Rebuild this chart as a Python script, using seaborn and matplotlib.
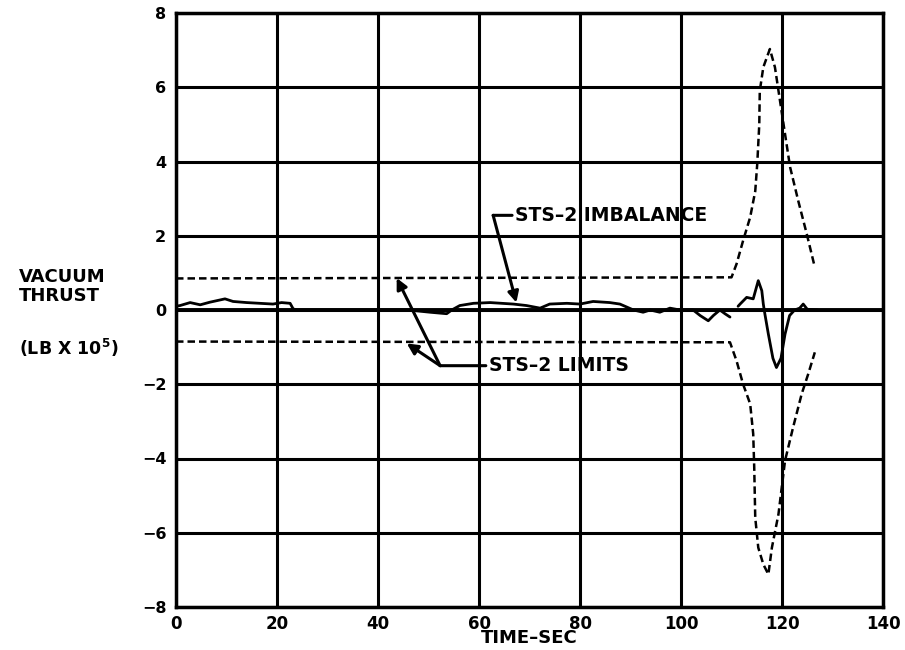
import numpy as np
import pandas as pd
import seaborn as sns
import matplotlib.pyplot as plt

# STS-2 imbalance trace (time sec, thrust 1e5 lb), two segments
imb_t1 = [0, 0.8, 2.8, 4.8, 6.7, 9.7, 11.3, 14, 16.6, 19.2, 20.9, 22.6, 23.2, 24, 30, 40, 46, 50.3,
          53.6, 54.6, 56.2, 58.9, 62.2, 66.8, 69.4, 72.1, 74, 77.4, 80, 82.6, 85.9, 87.9, 90.6,
          92.5, 93.9, 95.8, 97.8, 99.8, 102.4, 103.8, 105.4, 106.4, 107.7, 108.7, 109.7]
imb_v1 = [0.1, 0.12, 0.2, 0.14, 0.21, 0.3, 0.23, 0.2, 0.18, 0.16, 0.2, 0.18, 0.03, 0.0, 0.0, 0.0, 0.0, -0.06,
          -0.1, 0.0, 0.12, 0.18, 0.2, 0.16, 0.12, 0.05, 0.16, 0.18, 0.16, 0.23, 0.2, 0.16, 0.0,
          -0.06, 0.0, -0.06, 0.05, 0.0, 0.0, -0.15, -0.29, -0.15, 0.0, -0.1, -0.19]
imb_t2 = [111.3, 111.7, 113, 114.3, 115.3, 116, 116.3, 116.6, 117.3, 118.2, 118.9, 119.8, 120.6,
          121.5, 122.5, 123.5, 124.2, 125, 127]
imb_v2 = [0.1, 0.16, 0.34, 0.3, 0.79, 0.52, 0.16, -0.1, -0.65, -1.3, -1.55, -1.3, -0.65,
          -0.15, 0.0, 0.05, 0.16, 0.02, 0.0]

# STS-2 limits
lim_t_up = [0, 110, 111, 112.3, 113.7, 114.7, 115.1, 115.5, 115.6, 116.3, 117.6, 118.6, 119.6,
            120.6, 121.6, 123.2, 124.9, 126.5]
lim_v_up = [0.85, 0.88, 1.24, 1.87, 2.5, 3.2, 3.94, 5.0, 5.9, 6.54, 7.03, 6.54, 5.64,
            4.74, 3.85, 2.95, 2.05, 1.15]
lim_t_lo = [0, 109.7, 111, 112.3, 113.7, 114.3, 114.5, 114.7, 115.3, 116.3, 117.3, 118, 119.3,
            120.6, 122.2, 123.9, 125.2, 126.5]
lim_v_lo = [-0.85, -0.87, -1.37, -2.0, -2.53, -3.34, -4.24, -5.59, -6.4, -6.85, -7.12, -6.4, -5.5,
            -4.06, -3.16, -2.26, -1.72, -1.14]

x_ticks = [0, 20, 40, 60, 80, 100, 120, 140]
y_ticks = [-8, -6, -4, -2, 0, 2, 4, 6, 8]

imb = pd.DataFrame({
    "t": imb_t1 + imb_t2,
    "v": imb_v1 + imb_v2,
    "seg": [1] * len(imb_t1) + [2] * len(imb_t2),
})
lim = pd.DataFrame({
    "t": lim_t_up + lim_t_lo,
    "v": lim_v_up + lim_v_lo,
    "seg": ["up"] * len(lim_t_up) + ["lo"] * len(lim_t_lo),
})

sns.set_theme(style="white")
plt.rcParams["font.family"] = ["DejaVu Sans"]
plt.rcParams["font.weight"] = "bold"
plt.rcParams["text.color"] = "black"
plt.rcParams["axes.labelcolor"] = "black"
plt.rcParams["xtick.color"] = "black"
plt.rcParams["ytick.color"] = "black"

fig = plt.figure(figsize=(9.05, 6.5), dpi=100)
ax = fig.add_axes([176 / 905, 1 - 607 / 650, 707 / 905, 594 / 650])

sns.lineplot(data=lim, x="t", y="v", units="seg", estimator=None, color="black",
             linewidth=1.8, linestyle=(0, (3, 1.6)), ax=ax)
sns.lineplot(data=imb, x="t", y="v", units="seg", estimator=None, color="black",
             linewidth=2, ax=ax)

ax.set_xlim(0, 140)
ax.set_ylim(-8, 8)
ax.set_xticks(x_ticks)
ax.set_yticks(y_ticks)
ax.grid(True, color="black", linewidth=2.2)
ax.set_axisbelow(True)
ax.axhline(0, color="black", linewidth=2.8, zorder=1)
for s in ax.spines.values():
    s.set_color("black")
    s.set_linewidth(2.5)
ax.tick_params(axis="both", length=0, colors="black")
ax.tick_params(axis="x", labelsize=12, pad=6)
ax.tick_params(axis="y", labelsize=11.5, pad=7)
for lbl in ax.get_xticklabels() + ax.get_yticklabels():
    lbl.set_fontweight("bold")

ax.set_xlabel("TIME\u2013SEC", fontsize=13, fontweight="bold", color="black")
ax.xaxis.set_label_coords(0.5, -(629 - 607) / 594)
ax.set_ylabel("")

fig.text(19 / 905, 1 - 277 / 650, "VACUUM", fontsize=13, fontweight="bold", va="center", ha="left")
fig.text(19 / 905, 1 - 296 / 650, "THRUST", fontsize=13, fontweight="bold", va="center", ha="left")
fig.text(19 / 905, 1 - 348 / 650, r"(LB X 10$^{\mathbf{5}}$)", fontsize=12.5, fontweight="bold",
         va="center", ha="left")

arrow = dict(arrowstyle="-|>", color="black", lw=2.2, mutation_scale=16, shrinkA=0, shrinkB=0)
plain = dict(arrowstyle="-", color="black", lw=2.2, shrinkA=0, shrinkB=0)

# imbalance label
ax.annotate("STS\u20132 IMBALANCE", xy=(62.8, 2.55), xytext=(67.2, 2.55), fontsize=13.5,
            fontweight="bold", va="center", ha="left", arrowprops=plain)
ax.annotate("", xy=(67.4, 0.2), xytext=(62.8, 2.55), arrowprops=arrow)

# limits label
ax.annotate("STS\u20132 LIMITS", xy=(52.3, -1.5), xytext=(62.0, -1.5), fontsize=13.5,
            fontweight="bold", va="center", ha="left", arrowprops=plain)
ax.annotate("", xy=(43.7, 0.86), xytext=(52.3, -1.5), arrowprops=arrow)
ax.annotate("", xy=(45.7, -0.9), xytext=(52.3, -1.5), arrowprops=arrow)

fig.savefig("out.png", dpi=100)
